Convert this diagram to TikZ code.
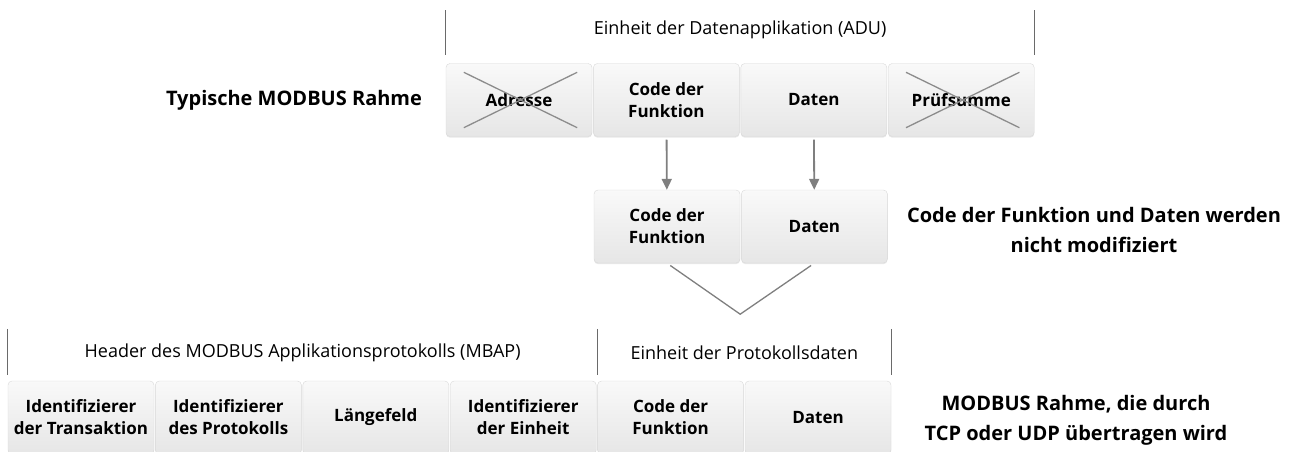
\documentclass[tikz,border=0pt]{standalone}
\usepackage{fontspec}
\setmainfont{Open Sans}
\usetikzlibrary{arrows.meta,positioning,calc,shadows}
\definecolor{mbTop}{HTML}{F9F9F9}
\definecolor{mbBottom}{HTML}{E6E6E6}
\definecolor{mbEdge}{HTML}{D9D9D9}
\definecolor{mbArrow}{HTML}{7F7F7F}
\definecolor{mbCross}{HTML}{8C8C8C}
\definecolor{mbBracket}{HTML}{6A6A6A}
\tikzset{
  fieldBox/.style={draw=mbEdge, top color=mbTop, bottom color=mbBottom, rounded corners=4pt,
    minimum width=146pt, minimum height=73pt, inner sep=0pt, align=center,
    font=\fontsize{17}{22}\selectfont\bfseries,
    drop shadow={shadow xshift=0pt, shadow yshift=-1.2pt, opacity=0.18}},
  crossLine/.style={draw=mbCross, line width=1.3pt},
  flowArrow/.style={-{Triangle[length=11pt, width=10pt]}, draw=mbArrow, line width=1.8pt},
  joinLine/.style={draw=mbArrow, line width=1.3pt},
  bracketLine/.style={draw=mbBracket, line width=1.1pt},
  spanLabel/.style={font=\fontsize{18}{22}\selectfont, inner sep=0pt},
  sideNote/.style={font=\fontsize{20}{30}\selectfont\bfseries, align=center, inner sep=0pt}
}
\begin{document}
\begin{tikzpicture}[x=1pt, y=-1pt, node distance=1pt]
  \useasboundingbox (0,0) rectangle (1295,452);

  % typical frame
  \node[fieldBox] (adr) at (519,100) {Adresse};
  \node[fieldBox, right=of adr] (code1) {Code der\\ Funktion};
  \node[fieldBox, right=of code1] (data1) {Daten};
  \node[fieldBox, right=of data1] (crc) {Prüfsumme};
  \draw[crossLine] ([xshift=18pt, yshift=-9pt]adr.north west) -- ([xshift=-15pt, yshift=9pt]adr.south east);
  \draw[crossLine] ([xshift=18pt, yshift=9pt]adr.south west) -- ([xshift=-15pt, yshift=-9pt]adr.north east);
  \draw[crossLine] ([xshift=18pt, yshift=-9pt]crc.north west) -- ([xshift=-15pt, yshift=9pt]crc.south east);
  \draw[crossLine] ([xshift=18pt, yshift=9pt]crc.south west) -- ([xshift=-15pt, yshift=-9pt]crc.north east);
  \node[sideNote] (typ) at (294,100) {Typische MODBUS Rahme};

  % ADU bracket
  \draw[bracketLine] ([yshift=53pt]adr.north west) coordinate (aduL) -- ([yshift=8pt]adr.north west);
  \draw[bracketLine] ([yshift=53pt]crc.north east) coordinate (aduR) -- ([yshift=8pt]crc.north east);
  \node[spanLabel] (adu) at ($(aduL)!0.5!(aduR)+(0,20)$) {Einheit der Datenapplikation (ADU)};

  % unchanged part
  \node[fieldBox] (code2) at (667,226.5) {Code der\\ Funktion};
  \node[fieldBox, right=of code2] (data2) {Daten};
  \draw[flowArrow, shorten <=3pt] (code1) -- (code2);
  \draw[flowArrow, shorten <=3pt] (data1) -- (data2);
  \node[sideNote] (same) at (1094,230) {Code der Funktion und Daten werden\\ nicht modifiziert};
  \coordinate (tip) at ($(code2.south east)+(0,51)$);
  \draw[joinLine, shorten <=4pt, shorten >=4pt] (code2.south) -- (tip) -- (data2.south);

  % TCP/UDP frame
  \node[fieldBox] (tid) at (81,417.5) {Identifizierer\\ der Transaktion};
  \node[fieldBox, right=of tid] (pid) {Identifizierer\\ des Protokolls};
  \node[fieldBox, right=of pid] (len) {Längefeld};
  \node[fieldBox, right=of len] (uid) {Identifizierer\\ der Einheit};
  \node[fieldBox, right=of uid] (code3) {Code der\\ Funktion};
  \node[fieldBox, right=of code3] (data3) {Daten};
  \node[sideNote] (tcp) at (1076,420) {MODBUS Rahme, die durch\\ TCP oder UDP übertragen wird};

  % MBAP and PDU brackets
  \draw[bracketLine] ([yshift=52pt]tid.north west) coordinate (mbapL) -- ([yshift=6pt]tid.north west);
  \draw[bracketLine] ([yshift=52pt]code3.north west) coordinate (pduL) -- ([yshift=6pt]code3.north west);
  \draw[bracketLine] ([yshift=52pt]data3.north east) coordinate (pduR) -- ([yshift=6pt]data3.north east);
  \node[spanLabel] (mbap) at ($(mbapL)!0.5!(pduL)+(0,24)$) {Header des MODBUS Applikationsprotokolls (MBAP)};
  \node[spanLabel] (pdu) at ($(pduL)!0.5!(pduR)+(0,24)$) {Einheit der Protokollsdaten};
\end{tikzpicture}
\end{document}
